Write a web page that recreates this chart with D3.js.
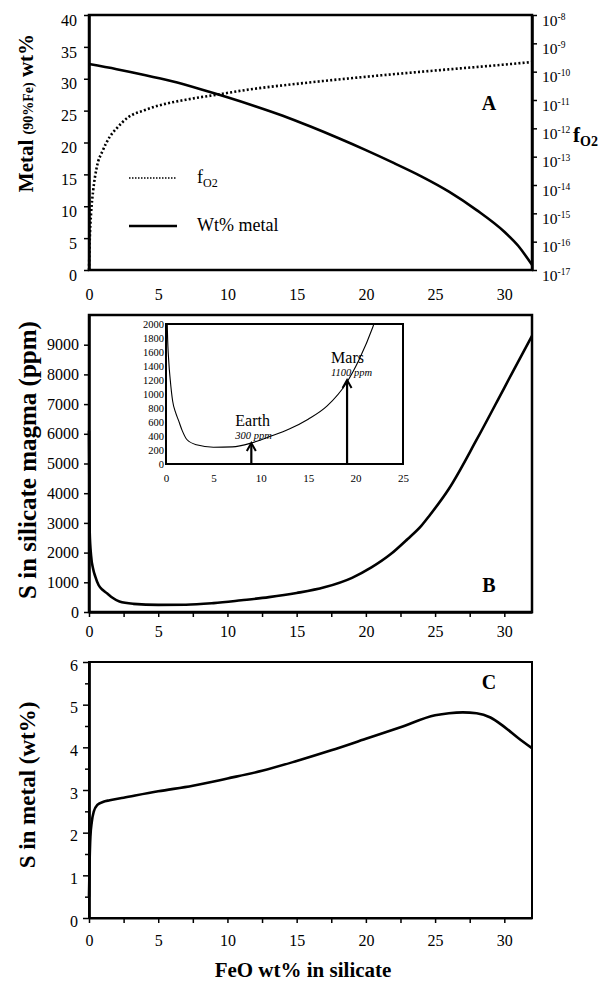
<!DOCTYPE html>
<html>
<head>
<meta charset="utf-8">
<script src="https://cdn.jsdelivr.net/npm/d3@7/dist/d3.min.js"></script>
<style>
  html, body { margin: 0; padding: 0; background: #fff; }
  svg text { font-family: "Liberation Serif", "Times New Roman", serif; fill: #000; }
</style>
</head>
<body>
<div id="chart"></div>
<script>
// ==========================================
// FeO in silicate vs metal / fO2 / sulfur
// ==========================================

// --- Panel A: metal wt% and fO2 ---
const feoMetal = [0, 2, 4, 6, 8, 10, 12, 14, 16, 18, 20, 22, 24, 26, 28, 30, 31, 32];
const metalWt  = [32.3, 31.5, 30.6, 29.6, 28.4, 27.1, 25.7, 24.2, 22.5, 20.7, 18.8, 16.8, 14.7, 12.3, 9.4, 6.0, 3.8, 0.8];

const feoFo2 = [0, 0.05, 0.15, 0.3, 0.55, 1, 1.5, 2, 2.8, 4, 5, 7, 9, 12, 15, 20, 25, 30, 32];
const fo2Exp = [-17, -16, -15, -14.2, -13.4, -12.78, -12.3, -12.0, -11.62, -11.36, -11.2, -10.99, -10.83, -10.6, -10.43, -10.18, -9.96, -9.75, -9.66];

const leftTicksA = [0, 5, 10, 15, 20, 25, 30, 35, 40];
const fo2TickExp = [-17, -16, -15, -14, -13, -12, -11, -10, -9, -8];

// --- Panel B: S in silicate magma (ppm) ---
const feoSil = [0, 0.05, 0.15, 0.3, 0.45, 0.7, 1, 1.3, 1.7, 2.2, 3.2, 5, 7, 9, 11, 13, 15, 17, 19, 20.4, 21.8, 23, 24, 24.6, 26, 28, 30, 32];
const sSil   = [6100, 2700, 1900, 1450, 1200, 900, 740, 630, 480, 350, 275, 240, 245, 300, 395, 500, 640, 830, 1150, 1500, 1950, 2450, 2900, 3250, 4150, 5800, 7550, 9300];
const leftTicksB = [0, 1000, 2000, 3000, 4000, 5000, 6000, 7000, 8000, 9000];

// inset annotations
const planets   = ["Earth", "Mars"];
const planetFeo = [9, 19.1];
const planetS   = [300, 1200];
const planetTxt = ["300 ppm", "1100 ppm"];
const insetYTicks = [0, 200, 400, 600, 800, 1000, 1200, 1400, 1600, 1800, 2000];
const insetXTicks = [0, 5, 10, 15, 20, 25];

// --- Panel C: S in metal (wt%) ---
const feoMet = [0, 0.05, 0.1, 0.2, 0.35, 0.6, 1, 1.5, 2.5, 5, 7.5, 10, 12.5, 15, 17.5, 20, 22.5, 25, 26, 27, 28, 29, 30, 31, 32];
const sMet   = [0.5, 1.4, 1.9, 2.25, 2.5, 2.65, 2.72, 2.76, 2.82, 2.97, 3.1, 3.27, 3.45, 3.68, 3.93, 4.2, 4.47, 4.75, 4.8, 4.82, 4.8, 4.7, 4.48, 4.22, 3.98];
const leftTicksC = [0, 1, 2, 3, 4, 5, 6];

const xTickLabels = [0, 5, 10, 15, 20, 25, 30];
const xTickMarks = d3.range(0, 32.1, 2.5);

// 1. canvas
const svg = d3.select("#chart").append("svg")
    .attr("width", 608)
    .attr("height", 989)
    .style("display", "block");

const FONT = '"Liberation Serif", "Times New Roman", serif';
const fmt = d3.format("d");

// 2. scales
const x = d3.scaleLinear().domain([0, 32]).range([89, 532]);
const yA = d3.scaleLinear().domain([0, 40]).range([270, 15]);
const yF = d3.scaleLog().domain([1e-17, 1e-8]).range([270, 15]);
const yB = d3.scaleLinear().domain([0, 10000]).range([612, 315]);
const yC = d3.scaleLinear().domain([0, 6]).range([918, 662]);
const ix = d3.scaleLinear().domain([0, 25]).range([166, 403]);
const iy = d3.scaleLinear().domain([0, 2000]).range([464, 324]);

function styleAxis(g, size, labelDy) {
    g.attr("font-family", FONT);
    g.select(".domain").attr("stroke-width", 2.5);
    g.selectAll(".tick line").attr("stroke-width", 1.5);
    g.selectAll(".tick text").attr("font-size", size).attr("fill", "#000");
    if (labelDy) g.selectAll(".tick text").attr("transform", `translate(0,${labelDy})`);
}

function frame(top, bottom, w) {
    svg.append("rect")
        .attr("x", x(0)).attr("y", top)
        .attr("width", x(32) - x(0)).attr("height", bottom - top)
        .attr("fill", "none").attr("stroke", "#000").attr("stroke-width", w || 2.5);
}

function xAxis(y0, ticks, pad, withLabels) {
    const g = svg.append("g").attr("transform", `translate(0,${y0})`)
        .call(d3.axisBottom(x).tickValues(ticks).tickSize(withLabels ? 0 : 5).tickSizeOuter(0)
            .tickFormat(withLabels ? fmt : ""));
    styleAxis(g, 16);
    if (withLabels) {
        g.select(".domain").remove();
        g.selectAll(".tick text").attr("y", pad);
    }
    return g;
}

// ==========================================
// PANEL A
// ==========================================
frame(15, 270);

const gAL = svg.append("g").attr("transform", `translate(${x(0)},0)`)
    .call(d3.axisLeft(yA).tickValues(leftTicksA).tickSize(5).tickPadding(7).tickSizeOuter(0).tickFormat(fmt));
styleAxis(gAL, 16, 5);

const gAR = svg.append("g").attr("transform", `translate(${x(32)},0)`)
    .call(d3.axisRight(yF).tickValues(fo2TickExp.map(e => Math.pow(10, e))).tickSize(5).tickSizeOuter(0).tickFormat(""));
styleAxis(gAR, 16);
gAR.selectAll(".tick").each(function(d) {
    const t = d3.select(this).append("text")
        .attr("x", 10).attr("y", 10).attr("font-size", 15.5).attr("fill", "#000")
        .attr("text-anchor", "start");
    t.append("tspan").text("10");
    t.append("tspan").attr("font-size", 9.5).attr("dy", -6).text(String(Math.round(Math.log10(d))));
});

xAxis(270, xTickLabels, 19, true);

svg.append("path")
    .datum(feoFo2.map((f, i) => [f, fo2Exp[i]]))
    .attr("fill", "none").attr("stroke", "#000").attr("stroke-width", 2.6)
    .attr("stroke-dasharray", "2,2.2")
    .attr("d", d3.line().x(d => x(d[0])).y(d => yF(Math.pow(10, d[1]))).curve(d3.curveMonotoneX));

svg.append("path")
    .datum(feoMetal.map((f, i) => [f, metalWt[i]]))
    .attr("fill", "none").attr("stroke", "#000").attr("stroke-width", 2.6)
    .attr("d", d3.line().x(d => x(d[0])).y(d => yA(d[1])).curve(d3.curveMonotoneX));

// legend
svg.append("line").attr("x1", 129).attr("x2", 176).attr("y1", 178).attr("y2", 178)
    .attr("stroke", "#000").attr("stroke-width", 1.6).attr("stroke-dasharray", "1.5,1.5");
const lf = svg.append("text").attr("x", 197).attr("y", 183).attr("font-size", 18);
lf.append("tspan").text("f");
lf.append("tspan").attr("font-size", 12).attr("dy", 4).text("O2");
svg.append("line").attr("x1", 129).attr("x2", 177).attr("y1", 226).attr("y2", 226)
    .attr("stroke", "#000").attr("stroke-width", 2.6);
svg.append("text").attr("x", 197).attr("y", 231).attr("font-size", 18).text("Wt% metal");

svg.append("text").attr("x", 489).attr("y", 110).attr("font-size", 20)
    .attr("font-weight", "bold").attr("text-anchor", "middle").text("A");

const rt = svg.append("text").attr("x", 573).attr("y", 142).attr("font-size", 21).attr("font-weight", "bold");
rt.append("tspan").text("f");
rt.append("tspan").attr("font-size", 14).attr("dy", 4).text("O2");

const tA = svg.append("text").attr("transform", "translate(33,113) rotate(-90)")
    .attr("text-anchor", "middle").attr("font-weight", "bold").attr("font-size", 21);
tA.append("tspan").text("Metal ");
tA.append("tspan").attr("font-size", 14).text("(90%Fe)");
tA.append("tspan").text(" wt%");

// ==========================================
// PANEL B
// ==========================================
frame(315, 612);

const gBL = svg.append("g").attr("transform", `translate(${x(0)},0)`)
    .call(d3.axisLeft(yB).tickValues(leftTicksB).tickSize(5).tickPadding(5).tickSizeOuter(0).tickFormat(fmt));
styleAxis(gBL, 16);

xAxis(612, xTickMarks, 0, false);
xAxis(612, xTickLabels, 14, true);

svg.append("path")
    .datum(feoSil.map((f, i) => [f, sSil[i]]))
    .attr("fill", "none").attr("stroke", "#000").attr("stroke-width", 2.6)
    .attr("d", d3.line().x(d => x(d[0])).y(d => yB(d[1])).curve(d3.curveMonotoneX));

svg.append("text").attr("x", 489).attr("y", 592).attr("font-size", 20)
    .attr("font-weight", "bold").attr("text-anchor", "middle").text("B");

svg.append("text").attr("transform", "translate(36,460) rotate(-90)")
    .attr("text-anchor", "middle").attr("font-weight", "bold").attr("font-size", 25)
    .text("S in silicate magma (ppm)");

// inset
svg.append("clipPath").attr("id", "inset-clip").append("rect")
    .attr("x", ix(0)).attr("y", iy(2000)).attr("width", ix(25) - ix(0)).attr("height", iy(0) - iy(2000));

svg.append("path")
    .datum(feoSil.map((f, i) => [f, sSil[i]]).filter(d => d[0] <= 25))
    .attr("clip-path", "url(#inset-clip)")
    .attr("fill", "none").attr("stroke", "#000").attr("stroke-width", 1.1)
    .attr("d", d3.line().x(d => ix(d[0])).y(d => iy(d[1])).curve(d3.curveMonotoneX));

svg.append("rect")
    .attr("x", ix(0)).attr("y", iy(2000)).attr("width", ix(25) - ix(0)).attr("height", iy(0) - iy(2000))
    .attr("fill", "none").attr("stroke", "#000").attr("stroke-width", 2);

const gIL = svg.append("g").attr("transform", `translate(${ix(0)},0)`)
    .call(d3.axisLeft(iy).tickValues(insetYTicks).tickSize(0).tickPadding(2).tickFormat(fmt));
gIL.attr("font-family", FONT);
gIL.select(".domain").remove();
gIL.selectAll(".tick text").attr("font-size", 10.5).attr("fill", "#000");

const gIB = svg.append("g").attr("transform", `translate(0,${iy(0)})`)
    .call(d3.axisBottom(ix).tickValues(insetXTicks).tickSize(0).tickPadding(10).tickFormat(fmt));
gIB.attr("font-family", FONT);
gIB.select(".domain").remove();
gIB.selectAll(".tick text").attr("font-size", 11).attr("fill", "#000");

planets.forEach((p, i) => {
    const px = ix(planetFeo[i]), tip = iy(planetS[i]);
    svg.append("line").attr("x1", px).attr("x2", px).attr("y1", iy(0)).attr("y2", tip + 1)
        .attr("stroke", "#000").attr("stroke-width", 2.2);
    svg.append("path").attr("d", `M${px - 4.5},${tip + 8}L${px},${tip}L${px + 4.5},${tip + 8}`)
        .attr("fill", "none").attr("stroke", "#000").attr("stroke-width", 2);
    svg.append("text").attr("x", px - 16).attr("y", tip - 17).attr("font-size", 16).text(p);
    svg.append("text").attr("x", px - 16).attr("y", tip - 4).attr("font-size", 10.5)
        .attr("font-style", "italic").text(planetTxt[i]);
});

// ==========================================
// PANEL C
// ==========================================
frame(662, 918, 2);

const gCm = svg.append("g").attr("transform", `translate(${x(0)},0)`)
    .call(d3.axisLeft(yC).tickValues(d3.range(0.5, 6, 1)).tickSize(4).tickFormat("").tickSizeOuter(0));
styleAxis(gCm, 16);
const gCL = svg.append("g").attr("transform", `translate(${x(0)},0)`)
    .call(d3.axisLeft(yC).tickValues(leftTicksC).tickSize(6).tickPadding(5).tickSizeOuter(0).tickFormat(fmt));
styleAxis(gCL, 16, 3);
gCL.select(".domain").attr("stroke-width", 2);

xAxis(918, xTickMarks, 0, false).select(".domain").attr("stroke-width", 2);
xAxis(918, xTickLabels, 17, true);

svg.append("path")
    .datum(feoMet.map((f, i) => [f, sMet[i]]))
    .attr("fill", "none").attr("stroke", "#000").attr("stroke-width", 2.6)
    .attr("d", d3.line().x(d => x(d[0])).y(d => yC(d[1])).curve(d3.curveMonotoneX));

svg.append("text").attr("x", 489).attr("y", 689).attr("font-size", 20)
    .attr("font-weight", "bold").attr("text-anchor", "middle").text("C");

svg.append("text").attr("transform", "translate(35,785) rotate(-90)")
    .attr("text-anchor", "middle").attr("font-weight", "bold").attr("font-size", 23)
    .text("S in metal (wt%)");

svg.append("text").attr("x", 303).attr("y", 977).attr("text-anchor", "middle")
    .attr("font-weight", "bold").attr("font-size", 21).text("FeO wt% in silicate");
</script>
</body>
</html>
